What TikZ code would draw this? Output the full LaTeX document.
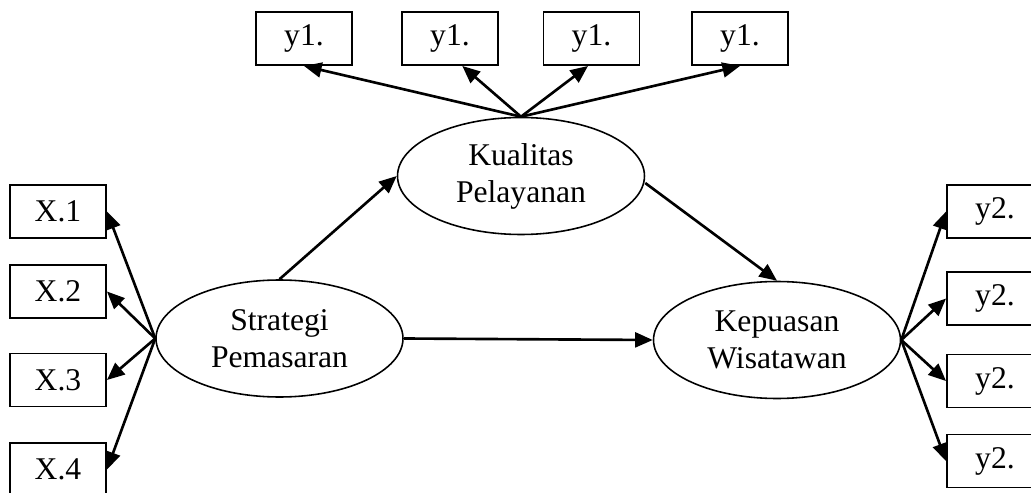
\documentclass[tikz,border=0pt]{standalone}
\usepackage{fontspec}
\setmainfont{Liberation Serif}
\usetikzlibrary{arrows.meta,shapes.geometric}
\begin{document}
\begin{tikzpicture}[x=0.02cm,y=-0.02cm,
    latent/.style={draw,ellipse,line width=0.9pt,minimum width=4.94cm,minimum height=2.34cm,inner sep=0pt,align=center,font=\fontsize{18}{21}\selectfont},
    indicator/.style={draw,rectangle,line width=1.1pt,minimum width=1.92cm,minimum height=1.06cm,inner sep=0pt,font=\fontsize{18}{21}\selectfont},
    link/.style={line width=1.5pt,-{Triangle[length=10pt,width=8.5pt]}}]

    \useasboundingbox (0,0) rectangle (1031,493);

    \node[latent] (SP) at (279.5,338.5) {Strategi\\Pemasaran};
    \node[latent] (KP) at (521,176) {Kualitas\\Pelayanan};
    \node[latent] (KW) at (777,340) {Kepuasan\\Wisatawan};

    \foreach \n/\y in {1/211.5,2/291.5,3/380,4/469.5} \node[indicator] (X\n) at (58,\y) {X.\n};
    \foreach \n/\x in {1/304,2/450,3/591.5,4/740} \node[indicator] (Ya\n) at (\x,38.5) {y1.};
    \foreach \n/\y in {1/211.5,2/298.5,3/381,4/461} \node[indicator] (Yb\n) at (995,\y) {y2.};

    \foreach \n in {1,...,4} \draw[link] (SP.west) -- (X\n.east);
    \foreach \n in {1,...,4} \draw[link] (KW.east) -- (Yb\n.west);

    \draw[link] (KP.north) -- (Ya1.south);
    \draw[link] (KP.north) -- ([xshift=7pt]Ya2.south);
    \draw[link] (KP.north) -- ([xshift=-2pt]Ya3.south);
    \draw[link] (KP.north) -- (Ya4.south);

    \draw[link] (SP.north) -- (KP.west);
    \draw[link] (SP.east) -- (KW.west);
    \draw[link] ([yshift=-4pt]KP.east) -- (KW.north);

\end{tikzpicture}
\end{document}
